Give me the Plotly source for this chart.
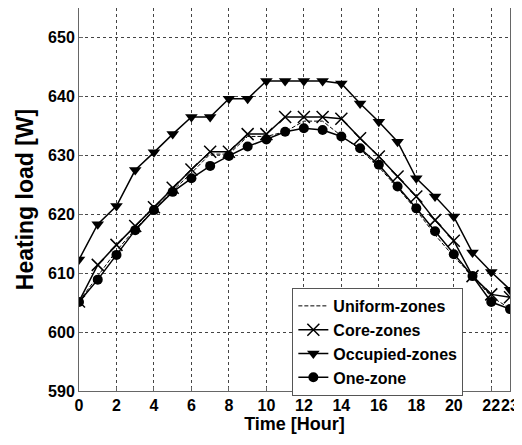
import plotly.graph_objects as go

hours = list(range(24))
uniform_zones = [605.2, 609.5, 613.8, 617.5, 620.8, 624.0, 627.0, 630.2, 630.2, 633.2, 633.2, 634.0,
                 635.8, 635.8, 633.3, 631.0, 628.0, 624.5, 620.7, 616.5, 612.8, 609.5, 606.0, 604.0]
core_zones = [605.2, 611.4, 614.8, 618.0, 621.2, 624.5, 627.6, 630.6, 630.6, 633.6, 633.6, 636.5,
              636.5, 636.5, 636.2, 632.9, 629.8, 626.4, 623.0, 619.0, 615.5, 609.5, 606.4, 605.9]
occupied_zones = [612.3, 618.3, 621.4, 627.5, 630.5, 633.6, 636.5, 636.5, 639.6, 639.6, 642.6, 642.6,
                  642.6, 642.6, 642.2, 638.8, 635.7, 632.3, 626.1, 623.0, 619.6, 613.5, 610.2, 607.2]
one_zone = [605.1, 608.9, 613.1, 617.3, 620.7, 623.8, 626.1, 628.2, 629.9, 631.5, 632.7, 634.0,
            634.6, 634.3, 633.2, 631.2, 628.4, 624.7, 621.0, 617.1, 613.2, 609.5, 605.1, 603.9]
x_ticks = [0, 2, 4, 6, 8, 10, 12, 14, 16, 18, 20, 22, 23]
y_ticks = [590, 600, 610, 620, 630, 640, 650]

FONT = "Arial"

fig = go.Figure()
fig.add_trace(go.Scatter(x=hours, y=uniform_zones, name="Uniform-zones", mode="lines",
                         line=dict(color="black", width=1, dash="4px,2px")))
fig.add_trace(go.Scatter(x=hours, y=core_zones, name="Core-zones", mode="lines+markers",
                         line=dict(color="black", width=1.5),
                         marker=dict(symbol="x-thin-open", size=12, color="black",
                                     line=dict(color="black", width=1.5))))
fig.add_trace(go.Scatter(x=hours, y=occupied_zones, name="Occupied-zones", mode="lines+markers",
                         line=dict(color="black", width=1.5),
                         marker=dict(symbol="triangle-down", size=11, color="black")))
fig.add_trace(go.Scatter(x=hours, y=one_zone, name="One-zone", mode="lines+markers",
                         line=dict(color="black", width=1.5),
                         marker=dict(symbol="circle", size=10, color="black")))

axis_common = dict(showgrid=True, gridcolor="#444", griddash="dot", gridwidth=1,
                   showline=True, linecolor="#666", linewidth=1, mirror=True,
                   ticks="inside", ticklen=4, tickcolor="#666", zeroline=False,
                   tickfont=dict(family=FONT, size=16, color="black", weight="bold"))

fig.update_xaxes(range=[0, 23], tickvals=x_ticks, tickangle=0,
                 title=dict(text="Time [Hour]", standoff=2,
                            font=dict(family=FONT, size=18, color="black", weight="bold")),
                 **axis_common)
fig.update_yaxes(range=[590, 655], tickvals=y_ticks,
                 title=dict(text="Heating load [W]", standoff=8,
                            font=dict(family=FONT, size=23, color="black", weight="bold")),
                 **axis_common)

fig.update_layout(
    width=514, height=437,
    margin=dict(l=71, r=12, t=0, b=54),
    plot_bgcolor="white", paper_bgcolor="white",
    font=dict(family=FONT, color="black"),
    legend=dict(x=0.495, y=0.269, xanchor="left", yanchor="top",
                bgcolor="white", bordercolor="#555", borderwidth=1,
                font=dict(family=FONT, size=16, color="black", weight="bold"),
                tracegroupgap=0, itemwidth=30),
    showlegend=True,
)

fig.write_html("out.html")
